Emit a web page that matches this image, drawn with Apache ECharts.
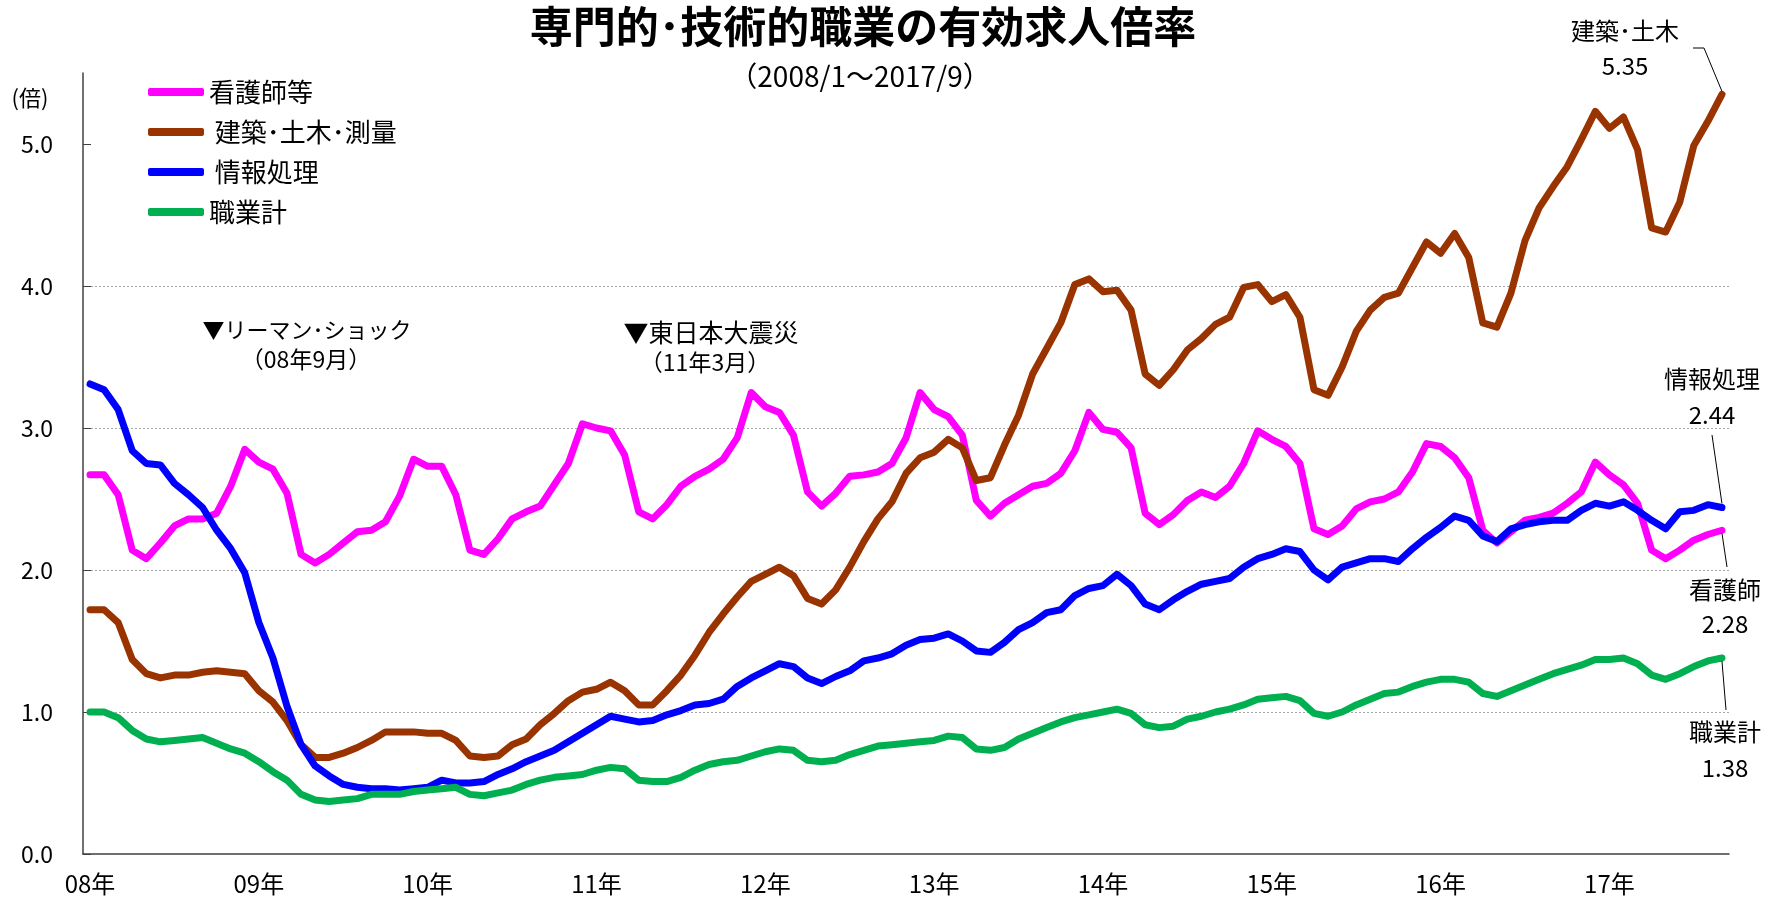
<!DOCTYPE html>
<html>
<head>
<meta charset="utf-8">
<script src="https://cdn.jsdelivr.net/npm/echarts@6/dist/echarts.min.js"></script>
<style>html,body{margin:0;padding:0;background:#fff}#c{width:1779px;height:899px}</style>
</head>
<body>
<div id="c"></div>
<script>
// ---- data ----
const years = [2008, 2009, 2010, 2011, 2012, 2013, 2014, 2015, 2016, 2017];
const yearLabels = ['08年', '09年', '10年', '11年', '12年', '13年', '14年', '15年', '16年', '17年'];
const lastMonth2017 = 9;
const months = [];
for (const y of years) {
  for (let m = 1; m <= 12; m++) {
    if (y === 2017 && m > lastMonth2017) break;
    months.push(y + '/' + m);
  }
}
const seriesNames = ['看護師等', '建築･土木･測量', '情報処理', '職業計'];
const nurse = [
  2.67, 2.67, 2.53, 2.14, 2.08, 2.19, 2.31, 2.36, 2.36, 2.40, 2.59, 2.85,
  2.76, 2.71, 2.54, 2.11, 2.05, 2.11, 2.19, 2.27, 2.28, 2.34, 2.52, 2.78,
  2.73, 2.73, 2.53, 2.14, 2.11, 2.22, 2.36, 2.41, 2.45, 2.60, 2.75, 3.03,
  3.00, 2.98, 2.81, 2.41, 2.36, 2.46, 2.59, 2.66, 2.71, 2.78, 2.93, 3.25,
  3.15, 3.11, 2.95, 2.55, 2.45, 2.54, 2.66, 2.67, 2.69, 2.75, 2.93, 3.25,
  3.13, 3.08, 2.95, 2.49, 2.38, 2.47, 2.53, 2.59, 2.61, 2.68, 2.84, 3.11,
  2.99, 2.97, 2.86, 2.40, 2.32, 2.39, 2.49, 2.55, 2.51, 2.59, 2.75, 2.98,
  2.92, 2.87, 2.75, 2.29, 2.25, 2.31, 2.43, 2.48, 2.50, 2.55, 2.69, 2.89,
  2.87, 2.79, 2.65, 2.28, 2.19, 2.27, 2.35, 2.37, 2.40, 2.47, 2.55, 2.76,
  2.67, 2.60, 2.47, 2.14, 2.08, 2.14, 2.21, 2.25, 2.28
];
const construction = [
  1.72, 1.72, 1.63, 1.37, 1.27, 1.24, 1.26, 1.26, 1.28, 1.29, 1.28, 1.27,
  1.15, 1.07, 0.94, 0.77, 0.68, 0.68, 0.71, 0.75, 0.80, 0.86, 0.86, 0.86,
  0.85, 0.85, 0.80, 0.69, 0.68, 0.69, 0.77, 0.81, 0.91, 0.99, 1.08, 1.14,
  1.16, 1.21, 1.15, 1.05, 1.05, 1.15, 1.26, 1.40, 1.56, 1.69, 1.81, 1.92,
  1.97, 2.02, 1.96, 1.80, 1.76, 1.86, 2.02, 2.20, 2.36, 2.48, 2.68, 2.79,
  2.83, 2.92, 2.86, 2.63, 2.65, 2.88, 3.09, 3.38, 3.56, 3.74, 4.01, 4.05,
  3.96, 3.97, 3.83, 3.38, 3.30, 3.41, 3.55, 3.63, 3.73, 3.78, 3.99, 4.01,
  3.89, 3.94, 3.78, 3.27, 3.23, 3.43, 3.68, 3.83, 3.92, 3.95, 4.13, 4.31,
  4.23, 4.37, 4.20, 3.74, 3.71, 3.95, 4.32, 4.55, 4.70, 4.84, 5.03, 5.23,
  5.11, 5.19, 4.96, 4.41, 4.38, 4.59, 4.99, 5.16, 5.35
];
const infoProc = [
  3.31, 3.27, 3.13, 2.84, 2.75, 2.74, 2.61, 2.53, 2.44, 2.28, 2.15, 1.98,
  1.63, 1.38, 1.04, 0.77, 0.62, 0.55, 0.49, 0.47, 0.46, 0.46, 0.45, 0.46,
  0.47, 0.52, 0.50, 0.50, 0.51, 0.56, 0.60, 0.65, 0.69, 0.73, 0.79, 0.85,
  0.91, 0.97, 0.95, 0.93, 0.94, 0.98, 1.01, 1.05, 1.06, 1.09, 1.18, 1.24,
  1.29, 1.34, 1.32, 1.24, 1.20, 1.25, 1.29, 1.36, 1.38, 1.41, 1.47, 1.51,
  1.52, 1.55, 1.50, 1.43, 1.42, 1.49, 1.58, 1.63, 1.70, 1.72, 1.82, 1.87,
  1.89, 1.97, 1.89, 1.76, 1.72, 1.79, 1.85, 1.90, 1.92, 1.94, 2.02, 2.08,
  2.11, 2.15, 2.13, 2.00, 1.93, 2.02, 2.05, 2.08, 2.08, 2.06, 2.15, 2.23,
  2.30, 2.38, 2.35, 2.24, 2.20, 2.29, 2.32, 2.34, 2.35, 2.35, 2.42, 2.47,
  2.45, 2.48, 2.42, 2.35, 2.29, 2.41, 2.42, 2.46, 2.44
];
const allJobs = [
  1.00, 1.00, 0.96, 0.87, 0.81, 0.79, 0.80, 0.81, 0.82, 0.78, 0.74, 0.71,
  0.65, 0.58, 0.52, 0.42, 0.38, 0.37, 0.38, 0.39, 0.42, 0.42, 0.42, 0.44,
  0.45, 0.46, 0.47, 0.42, 0.41, 0.43, 0.45, 0.49, 0.52, 0.54, 0.55, 0.56,
  0.59, 0.61, 0.60, 0.52, 0.51, 0.51, 0.54, 0.59, 0.63, 0.65, 0.66, 0.69,
  0.72, 0.74, 0.73, 0.66, 0.65, 0.66, 0.70, 0.73, 0.76, 0.77, 0.78, 0.79,
  0.80, 0.83, 0.82, 0.74, 0.73, 0.75, 0.81, 0.85, 0.89, 0.93, 0.96, 0.98,
  1.00, 1.02, 0.99, 0.91, 0.89, 0.90, 0.95, 0.97, 1.00, 1.02, 1.05, 1.09,
  1.10, 1.11, 1.08, 0.99, 0.97, 1.00, 1.05, 1.09, 1.13, 1.14, 1.18, 1.21,
  1.23, 1.23, 1.21, 1.13, 1.11, 1.15, 1.19, 1.23, 1.27, 1.30, 1.33, 1.37,
  1.37, 1.38, 1.34, 1.26, 1.23, 1.27, 1.32, 1.36, 1.38
];
const yTicks = [0, 1, 2, 3, 4, 5];
const colors = ['#FF00FF', '#993300', '#0000FF', '#00B050'];

// ---- chart ----
const FONT = '"Noto Sans CJK JP", "Noto Sans", sans-serif';
const chart = echarts.init(document.getElementById('c'), null, {renderer: 'canvas'});
const dataSets = [nurse, construction, infoProc, allJobs];

const option = {
  animation: false,
  textStyle: {fontFamily: FONT},
  grid: {left: 83, right: 50, top: 73, bottom: 45, containLabel: false},
  xAxis: {
    type: 'category', data: months, boundaryGap: true,
    axisLine: {lineStyle: {color: '#404040', width: 1.5}},
    axisTick: {show: false},
    axisLabel: {
      interval: function (i) { return i % 12 === 0; },
      formatter: function (v) { return yearLabels[years.indexOf(+String(v).split('/')[0])]; },
      fontSize: 24, color: '#000', margin: 18, fontFamily: FONT
    },
    splitLine: {show: false}
  },
  yAxis: {
    type: 'value', min: 0, max: 5.5, interval: 1,
    axisLine: {show: true, lineStyle: {color: '#404040', width: 1.5}},
    axisTick: {show: true, inside: true, length: 8, customValues: yTicks, lineStyle: {color: '#404040'}},
    axisLabel: {customValues: yTicks, formatter: function (v) { return Number(v).toFixed(1); }, fontSize: 23, color: '#000', margin: 30, fontFamily: FONT},
    splitLine: {show: true, showMinLine: false, showMaxLine: false, lineStyle: {color: '#a6a6a6', type: [2, 2], width: 1}}
  },
  legend: {
    orient: 'vertical', left: 93, top: 72,
    padding: [7, 64, 8, 55],
    backgroundColor: '#fff',
    itemWidth: 56, itemHeight: 8, itemGap: 14, itemTextGap: 4,
    icon: 'roundRect',
    textStyle: {fontSize: 26, color: '#000', lineHeight: 26, fontFamily: FONT},
    formatter: function (name) { return (name === seriesNames[1] || name === seriesNames[2]) ? ' ' + name : name; },
    data: seriesNames
  },
  series: seriesNames.map(function (n, i) {
    return {
      name: n, type: 'line', data: dataSets[i],
      showSymbol: false, symbol: 'none',
      lineStyle: {width: 7, color: colors[i], join: 'round', cap: 'round'},
      itemStyle: {color: colors[i]},
      emphasis: {disabled: true}
    };
  })
};
chart.setOption(option);

// ---- texts & leader lines ----
const last = months.length - 1;
function px(si) { return chart.convertToPixel({seriesIndex: si}, [months[last], dataSets[si][last]]); }
const pB = px(1), pI = px(2), pN = px(0), pT = px(3);
function txt(t, x, y, size, weight) {
  return {type: 'text', z: 10, style: {text: t, x: x, y: y, fill: '#000', font: (weight || 'normal') + ' ' + size + 'px ' + FONT, textAlign: 'center', textVerticalAlign: 'middle'}};
}
function poly(points) {
  return {type: 'polyline', z: 10, shape: {points: points}, style: {stroke: '#000', lineWidth: 1, fill: null}};
}
chart.setOption({
  graphic: [
    txt('専門的･技術的職業の有効求人倍率', 863, 27, 43, 'bold'),
    txt('（2008/1～2017/9）', 860, 76, 28),
    txt('(倍)', 30, 98, 22),
    txt('▼リーマン･ショック', 307, 330, 22),
    txt('（08年9月）', 306, 359, 23),
    txt('▼東日本大震災', 711, 332, 25),
    txt('（11年3月）', 705, 362, 23),
    txt('建築･土木', 1625, 31, 24),
    txt(construction[last].toFixed(2), 1625, 66, 24),
    txt('情報処理', 1712, 379, 24),
    txt(infoProc[last].toFixed(2), 1712, 415, 24),
    txt('看護師', 1725, 590, 24),
    txt(nurse[last].toFixed(2), 1725, 624, 24),
    txt('職業計', 1725, 732, 24),
    txt(allJobs[last].toFixed(2), 1725, 768, 24),
    poly([[1693, 48], [1704, 48], [pB[0], pB[1] - 3]]),
    poly([[1712, 435], [pI[0], pI[1] - 4]]),
    poly([[pN[0], pN[1] + 3], [1727, 567]]),
    poly([[pT[0], pT[1] + 3], [1726, 710]])
  ]
});
</script>
</body>
</html>
